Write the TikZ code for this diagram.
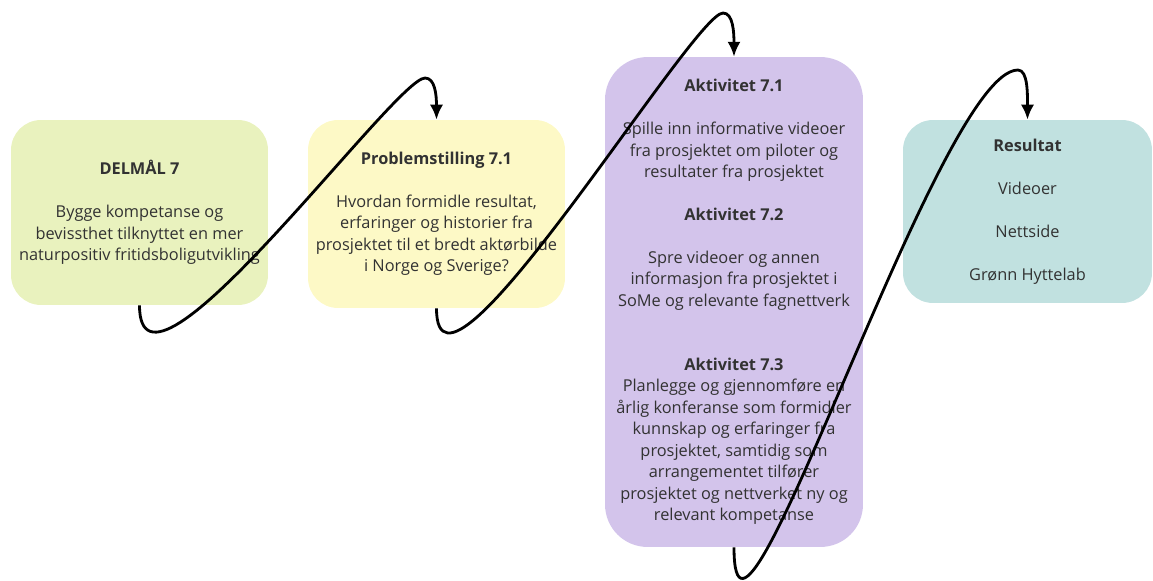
\documentclass[tikz,border=0pt]{standalone}
\usepackage{fontspec}
\setmainfont{Open Sans}
\usepackage{tikz}
\usetikzlibrary{positioning, calc, shapes, arrows.meta}
\definecolor{goalgreen}{RGB}{233,242,190}
\definecolor{questionyellow}{RGB}{253,249,198}
\definecolor{activitypurple}{RGB}{211,196,235}
\definecolor{resultteal}{RGB}{193,225,224}
\definecolor{bodygrey}{RGB}{50,50,50}
\tikzstyle{Loop} = [
%Curved arrow from one box to the next:
line width = 1.6pt,
-{Latex[length=8.5pt, width=7.5pt]}
]

\begin{document}
\begin{tikzpicture}[
			x = 0.02cm, y = -0.02cm,
			card/.style = {rectangle, text centered, align = center, inner sep = 0pt, text = bodygrey, font = \fontsize{9.3}{12.2}\selectfont},
			goal/.style = {card, fill = goalgreen, rounded corners = 0.6cm, minimum width = 5.14cm, minimum height = 3.7cm},
			question/.style = {card, fill = questionyellow, rounded corners = 0.6cm, minimum width = 5.14cm, minimum height = 3.76cm},
			activity/.style = {card, fill = activitypurple, rounded corners = 0.85cm, minimum width = 5.16cm, minimum height = 9.8cm},
			result/.style = {card, fill = resultteal, rounded corners = 0.6cm, minimum width = 4.98cm, minimum height = 3.66cm},
		]

		\useasboundingbox (0,0) rectangle (1153,581);

		\node[goal](DM) at (139.5,212.5){\textbf{DELMÅL 7}\\[12.2pt]
			Bygge kompetanse og\\
			bevissthet tilknyttet en mer\\
			naturpositiv fritidsboligutvikling};
		\node[question](PS) at (436.5,214){\textbf{Problemstilling 7.1}\\[12.2pt]
			Hvordan formidle resultat,\\
			erfaringer og historier fra\\
			prosjektet til et bredt aktørbilde\\
			i Norge og Sverige?};
		\node[activity](AK) at (734,302){\textbf{Aktivitet 7.1}\\[12.2pt]
			Spille inn informative videoer\\
			fra prosjektet om piloter og\\
			resultater fra prosjektet\\[12.2pt]
			\textbf{Aktivitet 7.2}\\[12.2pt]
			Spre videoer og annen\\
			informasjon fra prosjektet i\\
			SoMe og relevante fagnettverk\\[24.4pt]
			\textbf{Aktivitet 7.3}\\
			Planlegge og gjennomføre en\\
			årlig konferanse som formidler\\
			kunnskap og erfaringer fra\\
			prosjektet, samtidig som\\
			arrangementet tilfører\\
			prosjektet og nettverket ny og\\
			relevant kompetanse};
		\node[result](RS) at (1027.5,211.5){\textbf{Resultat}\\[12.2pt]
			Videoer\\[12.2pt]
			Nettside\\[12.2pt]
			Grønn Hyttelab};

		% top of each loop
		\coordinate(top1) at (425,78);
		\coordinate(top2) at (723,13);
		\coordinate(top3) at (1018,70);

		\draw[Loop](DM.south) .. controls +(0,125) and +(-30,0) .. (top1) .. controls +(10,0) and +(0,-25) .. (PS.north);
		\draw[Loop](PS.south) .. controls +(0,130) and +(-30,0) .. (top2) .. controls +(10,0) and +(0,-25) .. (AK.north);
		\draw[Loop](AK.south) .. controls +(0,180) and +(-80,0) .. (top3) .. controls +(10,0) and +(0,-25) .. (RS.north);

	\end{tikzpicture}
\end{document}
